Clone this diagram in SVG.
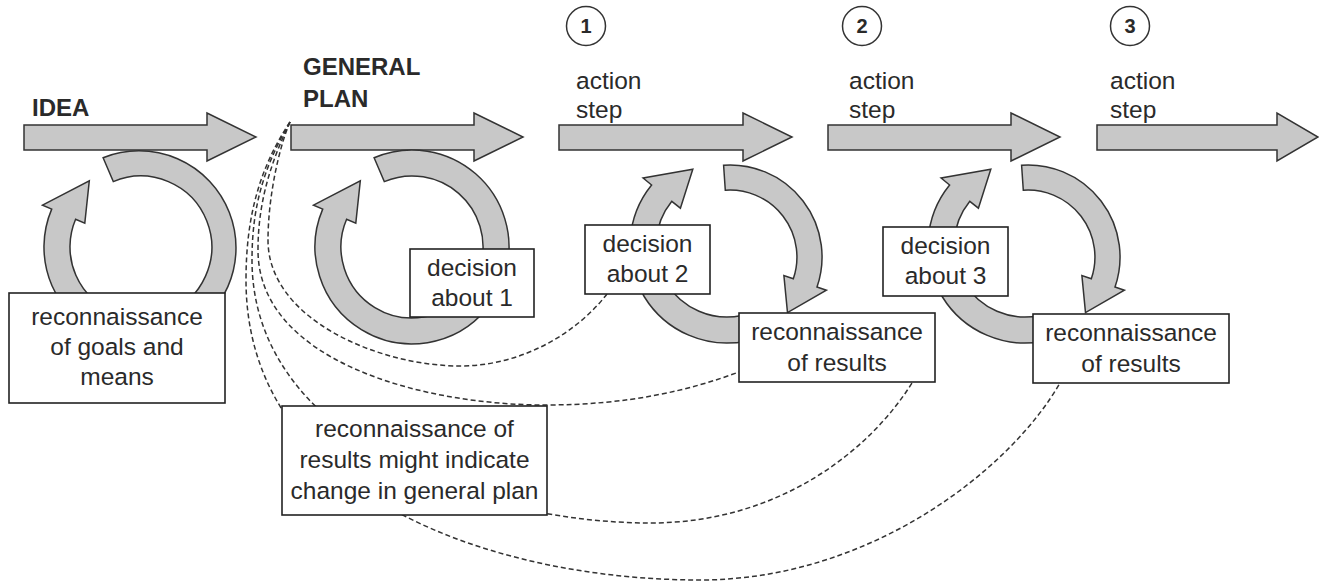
<svg xmlns="http://www.w3.org/2000/svg" width="1319" height="584" viewBox="0 0 1319 584">
  <style>
    .band { fill: #c8c8c8; stroke: #333; stroke-width: 1.5; stroke-linejoin: miter; }
    .box { fill: #fff; stroke: #222; stroke-width: 1.6; }
    .dash { fill: none; stroke: #333; stroke-width: 1.5; stroke-dasharray: 5 3; }
    .t { font-family: "Liberation Sans", Arial, sans-serif; font-size: 24.5px; fill: #2a2a2a; }
    .c { text-anchor: middle; }
    .b { font-weight: bold; font-size: 24px; }
    .num { font-family: "Liberation Sans", Arial, sans-serif; font-weight: bold; font-size: 20px; fill: #2a2a2a; text-anchor: middle; }
    .ring { fill: #fff; stroke: #333; stroke-width: 1.5; }
  </style>

  <rect width="1319" height="584" fill="#fff"/>

  <!-- main sequence of block arrows -->
  <g id="arrow-idea">
    <polygon class="band" points="24,125 207,125 207,113 256,137 207,161 207,150 24,150"/>
    <text class="t b" x="32" y="116">IDEA</text>
  </g>
  <g id="arrow-plan">
    <polygon class="band" points="291,125 474,125 474,113 523,137 474,161 474,150 291,150"/>
    <text class="t b" x="303" y="75">GENERAL</text>
    <text class="t b" x="303" y="107">PLAN</text>
  </g>
  <g id="arrow-step1">
    <polygon class="band" points="559,125 743,125 743,113 792,137 743,161 743,150 559,150"/>
    <circle class="ring" cx="586" cy="26" r="19.5"/>
    <text class="num" x="586" y="33">1</text>
    <text class="t" x="576" y="89">action</text>
    <text class="t" x="576" y="118">step</text>
  </g>
  <g id="arrow-step2">
    <polygon class="band" points="828,125 1011,125 1011,113 1060,137 1011,161 1011,150 828,150"/>
    <circle class="ring" cx="862" cy="26" r="19.5"/>
    <text class="num" x="862" y="33">2</text>
    <text class="t" x="849" y="89">action</text>
    <text class="t" x="849" y="118">step</text>
  </g>
  <g id="arrow-step3">
    <polygon class="band" points="1097,125 1277,125 1277,113 1318,137 1277,161 1277,150 1097,150"/>
    <circle class="ring" cx="1130" cy="26" r="19.5"/>
    <text class="num" x="1130" y="33">3</text>
    <text class="t" x="1110" y="89">action</text>
    <text class="t" x="1110" y="118">step</text>
  </g>

  <!-- circular loops under each stage -->
  <g id="loop-idea">
    <path class="band" d="M 103.1 157.7 A 97 97 0 1 1 174.2 338.2 L 165.3 313.7 A 71 71 0 1 0 113.3 181.6 Z"/>
    <path class="band" d="M 107.8 338.2 A 97 97 0 0 1 51.7 209.1 L 42.5 205.2 L 89.3 180.8 L 84.8 223.2 L 75.6 219.3 A 71 71 0 0 0 116.7 313.7 Z"/>
  </g>
  <g id="loop-plan">
    <path class="band" d="M 374.1 157.7 A 97 97 0 0 1 505.7 272.1 L 480.6 265.4 A 71 71 0 0 0 384.3 181.6 Z"/>
    <path class="band" d="M 486.3 309.3 A 97 97 0 0 1 322.7 209.1 L 313.5 205.2 L 360.3 180.8 L 355.8 223.2 L 346.6 219.3 A 71 71 0 0 0 466.4 292.6 Z"/>
  </g>
  <g id="loop-step1">
    <path class="band" d="M 747.2 340.9 A 97 97 0 0 1 651.6 185.0 L 643.1 178.0 L 692.8 169.3 L 680.4 208.2 L 671.8 201.3 A 71 71 0 0 0 741.8 315.4 Z"/>
    <path class="band" d="M 723.6 165.2 A 92 92 0 0 1 817.0 287.0 L 826.4 290.2 L 787.5 312.6 L 783.9 275.6 L 793.3 278.8 A 67 67 0 0 0 725.3 190.2 Z"/>
  </g>
  <g id="loop-step2">
    <path class="band" d="M 1045.2 340.9 A 97 97 0 0 1 949.6 185.0 L 941.1 178.0 L 990.8 169.3 L 978.4 208.2 L 969.8 201.3 A 71 71 0 0 0 1039.8 315.4 Z"/>
    <path class="band" d="M 1021.6 165.2 A 92 92 0 0 1 1115.0 287.0 L 1124.4 290.2 L 1085.5 312.6 L 1081.9 275.6 L 1091.3 278.8 A 67 67 0 0 0 1023.3 190.2 Z"/>
  </g>

  <!-- dashed feedback lines back to the general plan -->
  <g id="connectors">
    <path class="dash" d="M 290 122 C 278 150, 268 200, 268 240 C 268 320, 380 366, 460 366 C 520 366, 575 335, 607 294"/>
    <path class="dash" d="M 290 122 C 272 160, 258 200, 258 250 C 258 360, 420 405, 545 405 C 630 405, 690 390, 739 372"/>
    <path class="dash" d="M 290 122 C 262 170, 252 210, 252 260 C 252 440, 480 523, 650 523 C 780 523, 870 450, 912 383"/>
    <path class="dash" d="M 290 122 C 258 170, 246 220, 246 280 C 246 500, 500 580, 700 580 C 870 580, 1010 470, 1060 383"/>
  </g>

  <!-- text boxes -->
  <g id="box-goals">
    <rect class="box" x="9" y="293" width="216" height="110"/>
    <text class="t c" x="117" y="325">reconnaissance</text>
    <text class="t c" x="117" y="355">of goals and</text>
    <text class="t c" x="117" y="385">means</text>
  </g>
  <g id="box-decision1">
    <rect class="box" x="410" y="249" width="124" height="68"/>
    <text class="t c" x="472" y="276">decision</text>
    <text class="t c" x="472" y="306">about 1</text>
  </g>
  <g id="box-decision2">
    <rect class="box" x="585" y="225" width="125" height="69"/>
    <text class="t c" x="647.5" y="252">decision</text>
    <text class="t c" x="647.5" y="282">about 2</text>
  </g>
  <g id="box-decision3">
    <rect class="box" x="883" y="227" width="125" height="69"/>
    <text class="t c" x="945.5" y="254">decision</text>
    <text class="t c" x="945.5" y="284">about 3</text>
  </g>
  <g id="box-results1">
    <rect class="box" x="739" y="313" width="196" height="69"/>
    <text class="t c" x="837" y="340">reconnaissance</text>
    <text class="t c" x="837" y="371">of results</text>
  </g>
  <g id="box-results2">
    <rect class="box" x="1033" y="314" width="196" height="69"/>
    <text class="t c" x="1131" y="341">reconnaissance</text>
    <text class="t c" x="1131" y="372">of results</text>
  </g>
  <g id="box-change">
    <rect class="box" x="282" y="406" width="265" height="109"/>
    <text class="t c" x="414.5" y="437">reconnaissance of</text>
    <text class="t c" x="414.5" y="468">results might indicate</text>
    <text class="t c" x="414.5" y="499">change in general plan</text>
  </g>
</svg>
